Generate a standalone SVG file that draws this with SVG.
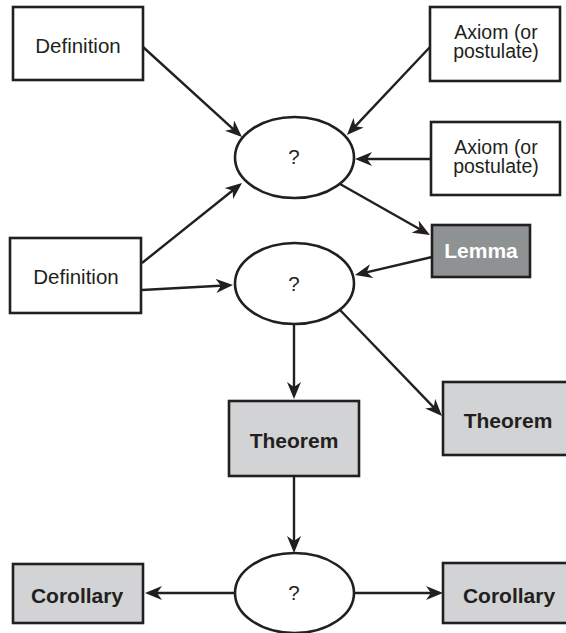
<svg xmlns="http://www.w3.org/2000/svg" width="566" height="633" viewBox="0 0 566 633">
<style>
.box{fill:#fff;stroke:#231f20;stroke-width:2.6}
.lt{fill:#d1d3d4;stroke:#231f20;stroke-width:2.6}
.dk{fill:#8e9293;stroke:#231f20;stroke-width:2.6}
.ell{fill:#fff;stroke:#231f20;stroke-width:2.6}
.t{font-family:"Liberation Sans",Arial,sans-serif;font-size:20.5px;fill:#231f20;text-anchor:middle}
.a{font-family:"Liberation Sans",Arial,sans-serif;font-size:19.5px;fill:#231f20;text-anchor:middle}
.b{font-family:"Liberation Sans",Arial,sans-serif;font-size:21px;font-weight:bold;fill:#231f20;text-anchor:middle}
.w{fill:#fff}
.c line{stroke:#231f20;stroke-width:2.4;marker-end:url(#ah)}
</style>
<defs>
<marker id="ah" viewBox="0 0 17 14" refX="13" refY="7" markerWidth="17" markerHeight="14" markerUnits="userSpaceOnUse" orient="auto">
<path d="M17,7 L0,0 L5,7 L0,14 Z" fill="#231f20"/>
</marker>
</defs>
<g id="def1"><rect class="box" x="13" y="7" width="130" height="73"/><text class="t" x="78" y="53">Definition</text></g>
<g id="ax1"><rect class="box" x="430" y="7" width="130" height="74"/><text class="a" x="496" y="39">Axiom (or</text><text class="a" x="496" y="57.5">postulate)</text></g>
<g id="ax2"><rect class="box" x="431" y="122" width="129" height="73"/><text class="a" x="496" y="154">Axiom (or</text><text class="a" x="496" y="172.5">postulate)</text></g>
<g id="q1"><ellipse class="ell" cx="294.5" cy="157.5" rx="59.5" ry="40.5"/><text class="t" x="294" y="164">?</text></g>
<g id="lemma"><rect class="dk" x="432" y="225" width="98" height="52"/><text class="b w" x="481" y="258">Lemma</text></g>
<g id="def2"><rect class="box" x="10" y="238" width="131" height="75"/><text class="t" x="76" y="284">Definition</text></g>
<g id="q2"><ellipse class="ell" cx="294.5" cy="283.5" rx="59.5" ry="40.5"/><text class="t" x="294" y="291">?</text></g>
<g id="thm1"><rect class="lt" x="229" y="401" width="130" height="75"/><text class="b" x="294" y="448">Theorem</text></g>
<g id="thm2"><rect class="lt" x="443" y="382" width="130" height="73"/><text class="b" x="508" y="428">Theorem</text></g>
<g id="q3"><ellipse class="ell" cx="294.5" cy="593" rx="59.5" ry="40"/><text class="t" x="294" y="600">?</text></g>
<g id="cor1"><rect class="lt" x="13" y="564" width="130" height="59"/><text class="b" x="77" y="603">Corollary</text></g>
<g id="cor2"><rect class="lt" x="443" y="563" width="130" height="60"/><text class="b" x="509" y="603">Corollary</text></g>
<g id="connectors" class="c">
<line x1="143" y1="47" x2="239" y2="134.3"/>
<line x1="142" y1="263" x2="238.9" y2="185.5"/>
<line x1="142" y1="290" x2="229" y2="285.2"/>
<line x1="430" y1="47" x2="349.7" y2="132.1"/>
<line x1="430" y1="159" x2="359" y2="159"/>
<line x1="340" y1="184" x2="426.5" y2="233"/>
<line x1="432" y1="257" x2="358.9" y2="274.1"/>
<line x1="294" y1="324" x2="294" y2="395"/>
<line x1="340" y1="310" x2="439.2" y2="413.1"/>
<line x1="294" y1="476" x2="294" y2="549"/>
<line x1="235" y1="593" x2="149" y2="593"/>
<line x1="354" y1="593" x2="439" y2="593"/>
</g>
</svg>
